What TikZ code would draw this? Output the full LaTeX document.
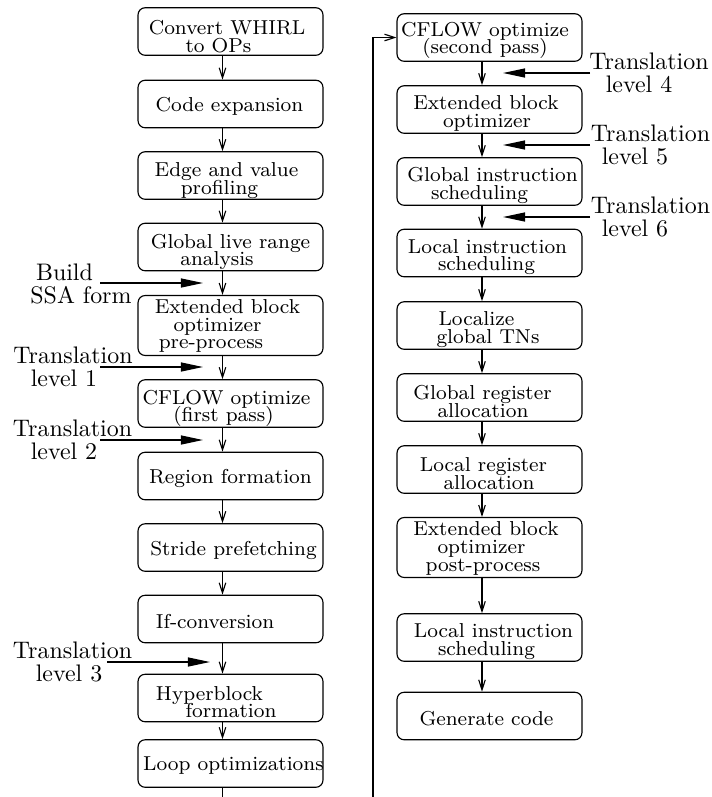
\documentclass[tikz,border=0pt]{standalone}
\usetikzlibrary{arrows.meta}

% one drawing unit
\newdimen\pxu \pxu=0.397pt
% a single text line, shifted sideways by #1 units from the centre
\newcommand\bl[2]{\hbox to 0pt{\hss\kern2\dimexpr#1\pxu\relax #2\hss}}
% stacked lines with a fixed baseline distance, lowered by half of #1
\newcommand\boxtext[2][10]{\vbox{\lineskiplimit=-\maxdimen\kern#1\pxu #2}}

\tikzset{
  stage/.style={draw, line width=0.45pt, rounded corners=2.8pt, inner sep=0pt,
    minimum width=73.4pt, minimum height=18.86pt,
    font=\fontsize{8}{7}\selectfont},
  tall/.style={minimum height=23.8pt},
  lab/.style={inner sep=0pt, font=\fontsize{9.5}{9.3}\selectfont},
  flow/.style={line width=0.45pt, -{Straight Barb[length=4pt,width=2.6pt]}},
  inject/.style={line width=0.5pt, -{Triangle[length=8.8pt,width=3.6pt]}},
}

\begin{document}
\begin{tikzpicture}[x=0.397pt, y=-0.397pt]
\useasboundingbox (0,0) rectangle (712,797);

% arrow columns
\coordinate (cl) at (222.5,0);
\coordinate (cr) at (482,0);

% ---- left column ----
\node[stage] (b1) at (230.5,31.5) {\boxtext{\bl{-3.5}{Convert WHIRL}\bl{-12}{to OPs}}};
\node[stage] (b2) at (230.5,104) {\boxtext[5]{\bl{-1}{Code expansion}}};
\node[stage] (b3) at (230.5,175.5) {\boxtext{\bl{-4}{Edge and value}\bl{-11}{profiling}}};
\node[stage] (b4) at (230.5,247) {\boxtext{\bl{0}{Global live range}\bl{-13.5}{analysis}}};
\node[stage,tall] (b5) at (230.5,325.5) {\boxtext[1]{\bl{-3}{Extended block}\bl{-13}{optimizer}\bl{-19.5}{pre-process}}};
\node[stage] (b6) at (230.5,403.5) {\boxtext{\bl{-4}{CFLOW optimize}\bl{-7}{(first pass)}}};
\node[stage] (b7) at (230.5,476) {\boxtext[5]{\bl{0}{Region formation}}};
\node[stage] (b8) at (230.5,547.5) {\boxtext[5]{\bl{3}{Stride prefetching}}};
\node[stage] (b9) at (230.5,619) {\boxtext[5]{\bl{-15.5}{If-conversion}}};
\node[stage] (b10) at (230.5,698) {\boxtext[8]{\bl{-21}{Hyperblock}\bl{0.5}{formation}}};
\node[stage] (b11) at (230.5,763.5) {\boxtext[5]{\bl{3}{Loop optimizations}}};

% ---- right column ----
\node[stage] (r1) at (489.5,37.5) {\boxtext[6]{\bl{-4.5}{CFLOW optimize}\bl{-4.5}{(second pass)}}};
\node[stage] (r2) at (489.5,109.5) {\boxtext[8]{\bl{-3.5}{Extended block}\bl{-2.5}{optimizer}}};
\node[stage] (r3) at (489.5,181.5) {\boxtext[8]{\bl{3}{Global instruction}\bl{-10}{scheduling}}};
\node[stage] (r4) at (489.5,253) {\boxtext[8]{\bl{-2}{Local instruction}\bl{-3}{scheduling}}};
\node[stage] (r5) at (489.5,325.5) {\boxtext[8]{\bl{-13}{Localize}\bl{-1.5}{global TNs}}};
\node[stage] (r6) at (489.5,397.5) {\boxtext[8]{\bl{-7}{Global register}\bl{-6.5}{allocation}}};
\node[stage] (r7) at (489.5,469.5) {\boxtext[8]{\bl{-6}{Local register}\bl{-0.5}{allocation}}};
\node[stage,tall] (r8) at (489.5,547.5) {\boxtext[2]{\bl{-3.5}{Extended block}\bl{-8}{optimizer}\bl{-6.5}{post-process}}};
\node[stage] (r9) at (489.5,637.5) {\boxtext[8]{\bl{4}{Local instruction}\bl{-3}{scheduling}}};
\node[stage] (r10) at (489.5,716) {\boxtext[5]{\bl{-3}{Generate code}}};

% ---- flow between stages ----
\foreach \a/\b in {b1/b2,b2/b3,b3/b4,b4/b5,b5/b6,b6/b7,b7/b8,b8/b9,b9/b10,b10/b11}
  \draw[flow] (\a.south -| cl) -- (\b.north -| cl);
\foreach \a/\b in {r1/r2,r2/r3,r3/r4,r4/r5,r5/r6,r6/r7,r7/r8,r8/r9,r9/r10}
  \draw[flow] (\a.south -| cr) -- (\b.north -| cr);

% continuation from the bottom of the left column to the top of the right one
\coordinate (outL) at (222.5,797);
\coordinate (inR) at (373,797);
\draw[line width=0.45pt] (b11.south -| cl) -- (outL);
\draw[flow] (inR) |- (r1.west);

% ---- entry points, left ----
\node[lab] (ssa) at (81,284) {\vbox{\bl{-16.5}{Build}\bl{0}{SSA form}}};
\node[lab] (t1) at (73,367) {\vbox{\bl{0}{Translation}\bl{-9}{level 1}}};
\node[lab] (t2) at (72.5,440) {\vbox{\bl{0}{Translation}\bl{-8.5}{level 2}}};
\node[lab] (t3) at (72.5,662) {\vbox{\bl{0}{Translation}\bl{-3.5}{level 3}}};
\coordinate (ssaS) at (100,283);  \coordinate (ssaE) at (203,283);
\coordinate (t1S) at (100,367);   \coordinate (t1E) at (203,367);
\coordinate (t2S) at (100,440);   \coordinate (t2E) at (203,440);
\coordinate (t3S) at (107,662);   \coordinate (t3E) at (210,662);
\draw[inject] (ssaS) -- (ssaE);
\draw[inject] (t1S) -- (t1E);
\draw[inject] (t2S) -- (t2E);
\draw[inject] (t3S) -- (t3E);

% ---- entry points, right ----
\node[lab] (t4) at (649,73) {\vbox{\bl{0}{Translation}\bl{-10}{level 4}}};
\node[lab] (t5) at (650.5,145) {\vbox{\bl{0}{Translation}\bl{-15.5}{level 5}}};
\node[lab] (t6) at (650.5,217) {\vbox{\bl{0}{Translation}\bl{-15.5}{level 6}}};
\coordinate (t4S) at (590,73);   \coordinate (t4E) at (503,73);
\coordinate (t5S) at (590,145);  \coordinate (t5E) at (503,145);
\coordinate (t6S) at (590,217);  \coordinate (t6E) at (503,217);
\draw[inject] (t4S) -- (t4E);
\draw[inject] (t5S) -- (t5E);
\draw[inject] (t6S) -- (t6E);
\end{tikzpicture}
\end{document}
